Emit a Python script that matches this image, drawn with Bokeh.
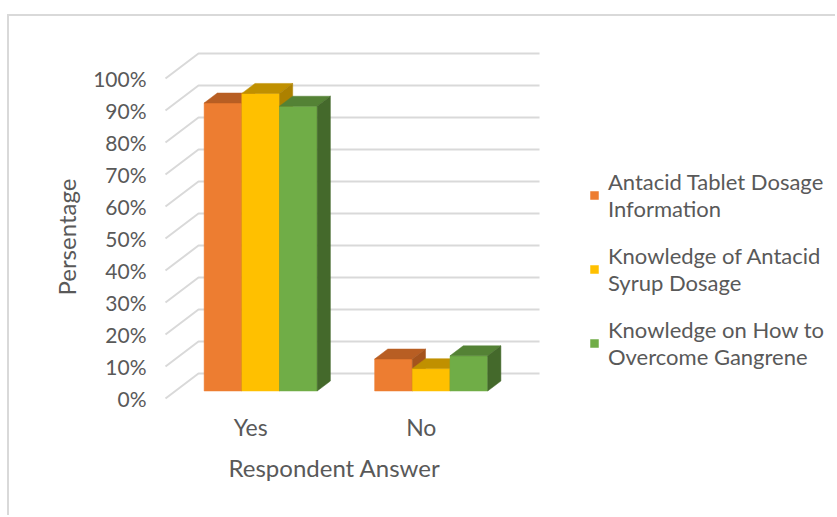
from bokeh.plotting import figure
from bokeh.models import (Range1d, FixedTicker, Legend, LegendItem, Title,
                          ColumnDataSource, PrintfTickFormatter)
from bokeh.embed import file_html
from bokeh.resources import INLINE

# ---------------- data ----------------
categories = ["Yes", "No"]
series_labels = ["Antacid Tablet Dosage\nInformation",
                 "Knowledge of Antacid\nSyrup Dosage",
                 "Knowledge on How to\nOvercome Gangrene"]
antacid_tablet = [90, 10]
antacid_syrup = [93, 7]
gangrene = [89, 11]
y_ticks = [0, 10, 20, 30, 40, 50, 60, 70, 80, 90, 100]

series_values = [antacid_tablet, antacid_syrup, gangrene]
front_colors = ["#ED7D31", "#FFC000", "#70AD47"]
top_colors = ["#B85E23", "#C09000", "#548235"]
side_colors = ["#A4531D", "#AD8100", "#44692B"]

FONT = "Lato"
GRAY = "#595959"
GRID = "#D9D9D9"

# ---------------- 3-D geometry (data units) ----------------
DX, DY = 0.1935, 7.8      # full depth of the chart box
T0, TD = 0.30, 0.40        # bar front offset / bar depth (fraction of depth)
GROUP = 0.663              # width of a bar cluster per category
W = GROUP / 3.0

W_CANVAS, H_CANVAS = 828, 501
p = figure(width=W_CANVAS, height=H_CANVAS, output_backend="svg",
           toolbar_location=None, title=None,
           x_range=Range1d(-0.0293, 3.941), y_range=Range1d(-4.375, 111.875),
           min_border_left=151, min_border_right=0,
           min_border_top=24, min_border_bottom=105)
p.styles = {"margin-top": "14px", "margin-left": "7px",
            "border-top": "2px solid #d9d9d9", "border-left": "2px solid #d9d9d9"}
p.outline_line_color = None
p.xgrid.visible = False
p.ygrid.visible = False
p.background_fill_color = "white"
p.border_fill_color = "white"

# ---------------- grid: side wall diagonals + back wall lines ----------------
n_cat = len(categories)
gx, gy = [], []
for v in y_ticks:
    gx.append([0.0, DX, n_cat + DX])
    gy.append([v, v + DY, v + DY])
p.multi_line(xs=gx, ys=gy, line_color=GRID, line_width=2)

# ---------------- bars ----------------
legend_items = []
for j, vals in enumerate(series_values):
    x0 = [i + 0.5 - GROUP / 2 + j * W + T0 * DX for i in range(n_cat)]
    x1 = [a + W for a in x0]
    y0 = [T0 * DY] * n_cat
    y1 = [v + T0 * DY for v in vals]
    src = ColumnDataSource(dict(left=x0, right=x1, bottom=y0, top=y1))
    r = p.quad(left="left", right="right", bottom="bottom", top="top", source=src,
               fill_color=front_colors[j], line_color=front_colors[j], line_width=0.5)
    tx, ty, sx, sy = [], [], [], []
    ddx, ddy = TD * DX, TD * DY
    for a, b, c, d in zip(x0, x1, y0, y1):
        tx.append([a, b, b + ddx, a + ddx])
        ty.append([d, d, d + ddy, d + ddy])
        sx.append([b, b, b + ddx, b + ddx])
        sy.append([c, d, d + ddy, c + ddy])
    p.patches(xs=tx, ys=ty, fill_color=top_colors[j], line_color=top_colors[j], line_width=0.5)
    p.patches(xs=sx, ys=sy, fill_color=side_colors[j], line_color=side_colors[j], line_width=0.5)
    legend_items.append(LegendItem(label=series_labels[j], renderers=[r]))

# ---------------- axes ----------------
ya = p.yaxis[0]
ya.ticker = FixedTicker(ticks=y_ticks)
ya.formatter = PrintfTickFormatter(format="%d%%")
ya.axis_line_color = None
ya.major_tick_line_color = None
ya.minor_tick_line_color = None
ya.major_tick_out = 0
ya.major_tick_in = 0
ya.major_label_standoff = 14
ya.major_label_text_font = FONT
ya.major_label_text_font_size = "21px"
ya.major_label_text_color = GRAY

xa = p.xaxis[0]
xa.ticker = FixedTicker(ticks=[i + 0.5 for i in range(n_cat)])
xa.major_label_overrides = {i + 0.5: c for i, c in enumerate(categories)}
xa.axis_line_color = None
xa.major_tick_line_color = None
xa.minor_tick_line_color = None
xa.major_tick_out = 0
xa.major_tick_in = 0
xa.major_label_standoff = 0
xa.major_label_text_font = FONT
xa.major_label_text_font_size = "23px"
xa.major_label_text_color = GRAY

xt = Title(text="Respondent Answer", align="left", offset=68, standoff=14,
           text_font=FONT, text_font_size="24px", text_font_style="normal",
           text_color=GRAY)
p.add_layout(xt, "below")
yt = Title(text="Persentage", align="left", offset=117, standoff=20,
           text_font=FONT, text_font_size="24px", text_font_style="normal",
           text_color=GRAY)
p.add_layout(yt, "left")

# ---------------- legend ----------------
legend = Legend(items=legend_items, location=(429, 42))
legend.label_text_font = FONT
legend.label_text_font_size = "22px"
legend.label_text_line_height = 1.32
legend.label_text_color = GRAY
legend.glyph_width = 10
legend.glyph_height = 10
legend.label_standoff = 9
legend.spacing = 20
legend.padding = 0
legend.margin = 0
legend.border_line_color = None
legend.background_fill_alpha = 0
p.add_layout(legend)

open("out.html", "w").write(file_html(p, INLINE))
